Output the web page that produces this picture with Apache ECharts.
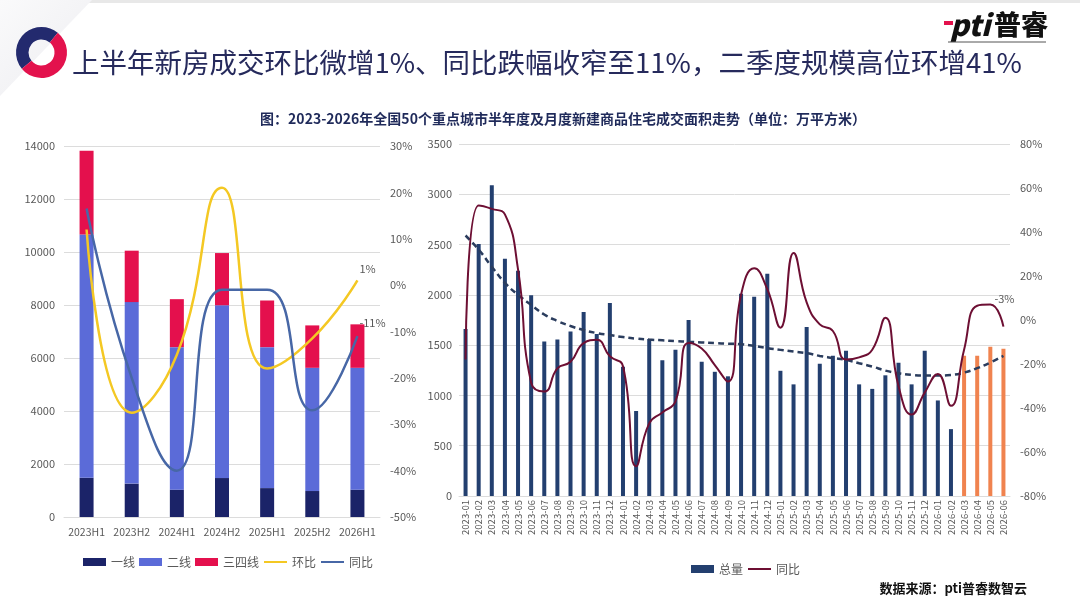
<!DOCTYPE html>
<html>
<head>
<meta charset="utf-8">
<title>新建商品住宅成交面积走势</title>
<script src="https://cdn.jsdelivr.net/npm/echarts@6/dist/echarts.min.js"></script>
<style>
  html, body { margin:0; padding:0; background:#fff; }
  #main { width:1080px; height:610px; }
</style>
</head>
<body>
<div id="main"></div>
<script>
    // 半年度（万平方米）
    var halfCats = ['2023H1', '2023H2', '2024H1', '2024H2', '2025H1', '2025H2', '2026H1'];
    var tier1 = [1480, 1260, 1030, 1470, 1090, 980, 1030];
    var tier2 = [9180, 6850, 5380, 6520, 5320, 4650, 4600];
    var tier34 = [3160, 1940, 1810, 1970, 1760, 1600, 1640];
    var halfHb = [12, -27.5, -15, 21, -18, -11.5, 1];      // 环比 %
    var halfTb = [16.5, -20, -40, -1, -1, -27, -11];       // 同比 %

    // 月度
    var months = ['2023-01', '2023-02', '2023-03', '2023-04', '2023-05', '2023-06', '2023-07', '2023-08', '2023-09', '2023-10', '2023-11', '2023-12',
                  '2024-01', '2024-02', '2024-03', '2024-04', '2024-05', '2024-06', '2024-07', '2024-08', '2024-09', '2024-10', '2024-11', '2024-12',
                  '2025-01', '2025-02', '2025-03', '2025-04', '2025-05', '2025-06', '2025-07', '2025-08', '2025-09', '2025-10', '2025-11', '2025-12',
                  '2026-01', '2026-02', '2026-03', '2026-04', '2026-05', '2026-06'];
    var monthTotal = [1660, 2505, 3090, 2360, 2240, 1995, 1535, 1555, 1635, 1830, 1610, 1920,
                      1285, 845, 1560, 1350, 1455, 1750, 1335, 1235, 1190, 2010, 1980, 2210,
                      1245, 1110, 1680, 1315, 1395, 1445, 1110, 1065, 1200, 1325, 1110, 1445,
                      950, 665, 1395, 1395, 1485, 1465];
    var monthTb = [-18, 52, 50.5, 48, 23, -28.5, -32.5, -22, -19, -10.5, -9, -16.5,
                   -21, -66.5, -47, -42, -37, -10.5, -13, -20.5, -28, 11.5, 23.5, 14,
                   -3.5, 30.5, 8, -2, -5, -18, -17, -13.5, 1, -30, -43, -33,
                   -24.5, -39, -13.5, 6.5, 7, -3];
    var monthTrend = [2590, 2450, 2280, 2120, 2000, 1900, 1805, 1740, 1690, 1650, 1620, 1600,
                      1580, 1565, 1555, 1548, 1540, 1533, 1527, 1520, 1515, 1509, 1493, 1470,
                      1453, 1436, 1420, 1393, 1373, 1353, 1320, 1287, 1247, 1221, 1204, 1198,
                      1198, 1204, 1227, 1271, 1327, 1393];
    var forecastMonths = ['2026-03', '2026-04', '2026-05', '2026-06'];

    var grayText = '#595959';
    var gridColor = '#dcdcdc';
    var font = "'Noto Sans CJK SC', 'Noto Sans', sans-serif";
    var plain = function (v) { return String(v); };
    var pct = function (v) { return v + '%'; };

    var myChart = echarts.init(document.getElementById('main'));

    var totalData = monthTotal.map(function (v, i) {
        if (forecastMonths.indexOf(months[i]) >= 0) {
            return {value: v, itemStyle: {color: '#f0834f'}};
        }
        return v;
    });

    myChart.setOption({
        animation: false,
        textStyle: {fontFamily: font},
        graphic: [
            {type: 'rect', shape: {x: 0, y: 0, width: 1080, height: 3}, style: {fill: '#e8e8e8'}},
            {type: 'polygon', shape: {points: [[0, 0], [92, 0], [0, 96]]},
                style: {fill: new echarts.graphic.LinearGradient(0, 0, 1, 1, [
                    {offset: 0, color: '#fafafb'}, {offset: 0.75, color: '#f0f0f3'}, {offset: 1, color: '#f7f7f9'}])}},
            // logo 圆环
            {type: 'sector', shape: {cx: 41.5, cy: 52.5, r: 25.5, r0: 13, startAngle: Math.PI * 0.78, endAngle: Math.PI * 1.72},
                style: {fill: '#232a6e'}},
            {type: 'sector', shape: {cx: 41.5, cy: 52.5, r: 25.5, r0: 13, startAngle: -Math.PI * 0.28, endAngle: Math.PI * 0.78},
                style: {fill: '#e3124d'}},
            {type: 'text', x: 72, y: 63, style: {text: '上半年新房成交环比微增1%、同比跌幅收窄至11%，二季度规模高位环增41%',
                fill: '#262a5c', font: '27.5px ' + font, verticalAlign: 'middle'}},
            // 右上角 logo
            {type: 'rect', shape: {x: 944, y: 21, width: 9, height: 4}, style: {fill: '#e3124d'}},
            {type: 'text', x: 950, y: 25, style: {text: 'pti', fill: '#111', font: 'italic 900 29px ' + font, verticalAlign: 'middle'}},
            {type: 'text', x: 994, y: 25, style: {text: '普睿', fill: '#111', font: '900 27px ' + font, verticalAlign: 'middle'}},
            {type: 'line', shape: {x1: 948, y1: 42, x2: 1046, y2: 42}, style: {stroke: '#555', lineWidth: 1}},
            {type: 'text', x: 563, y: 119, style: {text: '图：2023-2026年全国50个重点城市半年度及月度新建商品住宅成交面积走势（单位：万平方米）',
                fill: '#1f2a5a', font: 'bold 14px ' + font, align: 'center', verticalAlign: 'middle'}},
            {type: 'text', x: 1027, y: 588, style: {text: '数据来源：pti普睿数智云', fill: '#111',
                font: 'bold 13px ' + font, align: 'right', verticalAlign: 'middle'}}
        ],
        legend: [
            {
                left: 78, top: 551, itemWidth: 23, itemHeight: 8, itemGap: 4,
                textStyle: {color: grayText, fontSize: 12},
                data: [{name: '一线', icon: 'rect'}, {name: '二线', icon: 'rect'}, {name: '三四线', icon: 'rect'},
                       {name: '环比', itemStyle: {opacity: 0}}, {name: '同比', itemStyle: {opacity: 0}}]
            },
            {
                left: 686, top: 558, itemWidth: 23, itemHeight: 8, itemGap: 4,
                textStyle: {color: grayText, fontSize: 12},
                formatter: function (n) { return n === '月度同比' ? '同比' : n; },
                data: [{name: '总量', icon: 'rect'}, {name: '月度同比', itemStyle: {opacity: 0}}]
            }
        ],
        grid: [
            {left: 64, top: 146, width: 316, height: 371},
            {left: 459, top: 144, width: 551, height: 352}
        ],
        xAxis: [
            {
                type: 'category', gridIndex: 0, data: halfCats,
                axisTick: {show: false},
                axisLine: {lineStyle: {color: gridColor}},
                axisLabel: {color: grayText, fontSize: 10.5, margin: 10, interval: 0}
            },
            {
                type: 'category', gridIndex: 1, data: months,
                axisTick: {show: false},
                axisLine: {lineStyle: {color: gridColor}},
                axisLabel: {color: grayText, fontSize: 9.5, rotate: 90, interval: 0, margin: 4}
            }
        ],
        yAxis: [
            {
                type: 'value', gridIndex: 0, min: 0, max: 14000, interval: 2000,
                splitLine: {lineStyle: {color: gridColor}},
                axisLabel: {color: grayText, fontSize: 11, margin: 9, formatter: plain}
            },
            {
                type: 'value', gridIndex: 0, position: 'right', min: -50, max: 30, interval: 10,
                splitLine: {show: false},
                axisLabel: {color: grayText, fontSize: 11, margin: 10, formatter: pct}
            },
            {
                type: 'value', gridIndex: 1, min: 0, max: 3500, interval: 500,
                splitLine: {lineStyle: {color: gridColor}},
                axisLabel: {color: grayText, fontSize: 11, margin: 7, formatter: plain}
            },
            {
                type: 'value', gridIndex: 1, position: 'right', min: -80, max: 80, interval: 20,
                splitLine: {show: false},
                axisLabel: {color: grayText, fontSize: 11, margin: 10, formatter: pct}
            }
        ],
        series: [
            {name: '一线', type: 'bar', stack: 'half', xAxisIndex: 0, yAxisIndex: 0, barWidth: 14,
                itemStyle: {color: '#1b2368'}, data: tier1},
            {name: '二线', type: 'bar', stack: 'half', xAxisIndex: 0, yAxisIndex: 0, barWidth: 14,
                itemStyle: {color: '#5b6bd8'}, data: tier2},
            {name: '三四线', type: 'bar', stack: 'half', xAxisIndex: 0, yAxisIndex: 0, barWidth: 14,
                itemStyle: {color: '#e4104d'}, data: tier34},
            {name: '环比', type: 'line', xAxisIndex: 0, yAxisIndex: 1, smooth: 0.5, symbol: 'none',
                lineStyle: {color: '#f4c823', width: 2.5}, itemStyle: {color: '#f4c823'},
                endLabel: {show: true, formatter: '1%', color: grayText, fontSize: 11, offset: [-6, -12]},
                data: halfHb},
            {name: '同比', type: 'line', xAxisIndex: 0, yAxisIndex: 1, smooth: 0.5, symbol: 'none',
                lineStyle: {color: '#4767a6', width: 2.5}, itemStyle: {color: '#4767a6'},
                endLabel: {show: true, formatter: '-11%', color: grayText, fontSize: 11, offset: [-6, -13]},
                data: halfTb},

            {name: '总量', type: 'bar', xAxisIndex: 1, yAxisIndex: 2, barWidth: 4,
                itemStyle: {color: '#233f6f'}, data: totalData},
            {name: '趋势', type: 'line', xAxisIndex: 1, yAxisIndex: 2, smooth: true, symbol: 'none',
                lineStyle: {color: '#2b3d5e', width: 2.5, type: [6, 4]}, data: monthTrend},
            {name: '月度同比', type: 'line', xAxisIndex: 1, yAxisIndex: 3, smooth: 0.5, symbol: 'none',
                lineStyle: {color: '#6d0f33', width: 2}, itemStyle: {color: '#6d0f33'},
                endLabel: {show: true, formatter: '-3%', color: grayText, fontSize: 11, offset: [-17, -28]},
                data: monthTb}
        ]
    });
</script>
</body>
</html>
